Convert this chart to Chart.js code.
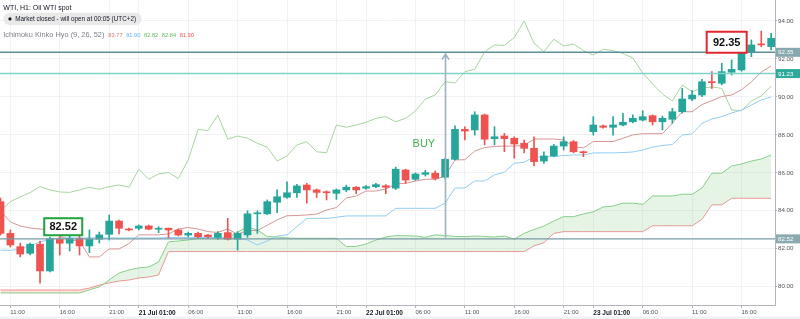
<!DOCTYPE html>
<html><head><meta charset="utf-8">
<script src="https://cdn.jsdelivr.net/npm/chart.js@4/dist/chart.umd.min.js"></script>
<style>html,body{margin:0;padding:0;background:#fff;}canvas{display:block;}</style>
</head><body>
<canvas id="c" width="800" height="319"></canvas>
<script>
// ---------- data (hourly WTI candles, 20 Jul 10:00 -> 23 Jul 19:00) ----------
const open  = [84.48,82.81,82.11,81.76,82.24,80.83,82.50,82.29,82.55,82.15, 82.50,82.76,83.46,83.04,83.08,83.20,83.03,83.08,82.99,82.72, 82.81,82.72,82.60,82.85,82.50,82.73,83.84,83.84,84.45,84.71, 84.95,85.36,85.10,84.98,84.92,85.10,85.24,85.19,85.27,85.32, 85.19,86.15,85.66,85.92,85.98,85.77,86.71,88.29,88.26,89.05, 87.80,87.94,87.82,87.56,87.29,86.62,86.89,87.41,87.64,87.11, 88.17,88.47,88.40,88.52,88.69,88.78,89.01,88.69,88.82,89.22, 89.89,90.10,90.80,90.72,91.30,91.42,92.38,92.79,92.65];
const high  = [84.67,82.99,82.30,82.30,82.41,82.62,82.64,82.76,82.73,82.99, 82.88,83.78,83.51,83.09,83.25,83.25,83.16,83.09,83.04,82.88, 82.88,82.76,82.90,83.60,82.90,84.00,84.00,84.57,85.10,85.53, 85.40,85.45,85.15,85.05,85.15,85.35,85.28,85.33,85.45,85.38, 86.30,86.19,86.00,86.13,86.10,86.76,88.47,88.43,89.22,89.10, 88.43,88.08,87.90,87.73,87.90,87.11,87.50,87.90,87.70,87.15, 88.96,88.52,88.96,89.14,89.05,89.27,89.05,88.99,89.40,90.45, 90.33,90.93,91.33,91.77,91.95,92.50,93.00,93.47,93.35];
const low   = [82.72,82.09,81.57,81.67,80.18,80.78,81.67,81.88,81.67,81.79, 82.30,82.46,82.78,82.94,82.99,82.99,82.85,82.57,82.67,82.62, 82.57,82.57,82.49,82.46,81.93,82.60,82.81,83.80,83.90,84.65, 84.70,84.40,84.70,84.57,84.60,85.00,84.90,85.12,85.22,84.90, 85.12,85.44,85.60,85.83,85.62,85.70,86.68,87.73,87.99,87.47, 87.47,87.11,86.77,87.05,86.36,86.50,86.85,87.20,87.05,86.85, 87.99,88.35,87.99,88.47,88.63,88.73,88.52,88.26,88.61,89.14, 89.80,90.01,90.45,90.63,91.15,91.35,92.12,92.65,92.47];
const close = [82.81,82.20,81.72,82.24,80.83,82.52,82.29,82.55,82.15,82.50, 82.73,83.46,83.08,82.99,83.20,83.03,83.06,82.99,82.72,82.81, 82.63,82.63,82.81,82.50,82.81,83.84,83.87,84.48,84.74,84.95, 85.31,85.10,84.97,84.95,85.10,85.24,85.10,85.27,85.38,85.24, 86.19,85.62,85.94,86.01,85.71,86.71,88.29,88.20,89.05,87.77, 87.90,87.80,87.52,87.29,86.59,86.89,87.41,87.64,87.11,87.06, 88.52,88.40,88.52,88.66,88.87,88.96,88.69,88.87,89.22,89.89, 90.10,90.80,90.75,91.33,91.45,92.35,92.74,92.74,93.09];

// Ichimoku Kinko Hyo (9, 26, 52) lines as drawn
const tenkan  = [83.99,83.41,83.20,83.09,83.04,82.99,82.67,82.46,82.41,81.57, 81.57,81.99,81.99,82.27,82.73,82.73,82.73,82.78,83.04,83.12, 83.04,82.90,82.86,83.04,82.76,82.96,82.96,83.24,83.52,83.74, 83.75,83.78,83.83,84.04,84.17,84.67,84.78,85.04,85.04,85.15, 85.41,85.45,85.57,85.66,85.66,85.83,86.68,86.69,87.15,87.33, 87.39,87.41,87.41,87.44,87.78,87.78,87.78,87.73,87.39,87.31, 87.65,87.65,87.65,87.82,88.00,88.06,88.06,88.06,88.62,89.22, 89.22,89.60,89.80,90.02,90.10,90.38,90.79,91.31,91.63];
const kijun   = [81.93,81.91,81.99,82.15,82.36,82.51,82.57,82.57,82.57,82.57, 82.57,82.57,82.57,82.57,82.57,82.57,82.57,82.59,82.59,82.59, 82.59,82.59,82.59,82.59,82.57,82.46,82.20,82.41,82.67,82.73, 83.16,83.60,83.60,83.60,83.66,83.73,83.73,83.73,83.73,83.73, 84.13,84.13,84.13,84.13,84.13,84.41,85.20,85.20,85.57,85.57, 85.89,86.04,86.50,86.56,86.83,86.83,86.86,86.91,86.94,86.94, 87.05,87.05,87.05,87.07,87.10,87.20,87.36,87.44,87.49,87.99, 88.05,88.61,88.84,88.96,89.15,89.31,89.57,89.84,90.00];
const lagging = [83.99,84.48,84.73,84.96,85.28,85.10,84.99,84.97,85.10,85.24, 85.13,85.27,85.36,85.24,86.19,85.66,85.94,86.01,85.71,86.68, 88.29,88.22,89.05,87.77,87.94,87.82,87.56,87.35,86.62,86.89, 87.47,87.64,87.11,87.06,88.52,88.40,88.52,88.66,88.87,88.96, 88.69,88.87,89.26,89.89,90.10,90.80,90.73,91.33,91.46,92.37, 92.74,92.71,93.13,94.00,92.83,92.38,93.04,92.68,92.79,92.44, 92.21,92.51,92.44,92.29,92.05,91.26,90.68,90.15,89.79,90.63, 90.28,90.47,90.52,90.45,89.31,89.27,89.79,90.05,90.58];
const spanA   = [79.67,79.67,79.67,79.67,79.67,79.67,79.67,79.67,79.67,79.83, 79.99,80.35,80.72,80.88,80.99,81.04,81.30,82.36,82.41,82.46, 82.54,82.55,82.55,82.55,82.88,83.15,82.99,82.64,82.62,82.57, 82.55,82.55,82.55,82.55,82.55,82.12,82.12,82.25,82.46,82.62, 82.69,82.69,82.67,82.60,82.73,82.70,82.65,82.64,82.67,82.65, 82.62,82.67,82.51,82.81,83.01,83.20,83.46,83.69,83.69,83.83, 83.95,84.20,84.25,84.40,84.40,84.34,84.78,84.78,84.78,84.87, 84.87,85.20,85.98,85.98,86.36,86.47,86.62,86.73,86.94];
const spanB   = [79.83,79.83,79.83,79.83,79.83,79.83,79.83,79.83,79.83,79.93, 80.09,80.20,80.30,80.35,80.46,80.51,80.62,81.85,81.85,81.85, 81.85,81.85,81.85,81.85,81.85,81.85,81.85,81.85,81.85,81.85, 81.85,81.85,81.85,81.85,81.85,81.85,81.85,81.85,81.85,81.85, 81.85,81.85,81.85,81.85,81.85,81.85,81.85,81.85,81.85,81.85, 81.85,81.85,81.85,81.85,82.15,82.32,82.81,82.90,82.90,82.90, 82.90,82.90,82.90,82.90,82.90,82.90,83.21,83.21,83.21,83.21, 83.21,83.55,84.31,84.31,84.66,84.66,84.66,84.66,84.66];

// axes
const yTicks = [80, 82, 84, 86, 88, 90, 92, 94];
const xTickIdx    = [1, 6, 11, 14, 19, 24, 29, 34, 37, 42, 47, 52, 57, 60, 65, 70, 75];
const xTickLabels = ['11:00','16:00','21:00','21 Jul 01:00','06:00','11:00','16:00','21:00','22 Jul 01:00','06:00','11:00','16:00','21:00','23 Jul 01:00','06:00','11:00','16:00'];

// annotations
const levels = [92.35, 91.23, 82.52];
const levelLabels = ['92.35', '91.23', '82.52'];
const buyBar = 45;
const calloutText = ['82.52', '92.35'];
const titleText = 'WTI, H1: Oil WTI spot';
const statusText = 'Market closed - will open at 00:05 (UTC+2)';
const indicatorText = 'Ichimoku Kinko Hyo (9, 26, 52)';
const legendValues = ['83.77', '81.90', '82.82', '82.84', '81.90'];

// ---------- styles / placement (not data) ----------
const FONT = '"Liberation Sans", Arial, sans-serif';
const UP = '#26a69a', DOWN = '#ef5350';
const levelStyle = [
  {line: '#5e8f99', box: '#86a8ae'},
  {line: '#7fd3c6', box: '#2eaa9c'},
  {line: '#789ca5', box: '#8aa9b0'}
];
const calloutPos = [ // in data units: bar index, price (centre)
  {bar: 6.35, price: 83.16, w: 38, h: 17, color: '#20a33c'},
  {bar: 73.5, price: 92.88, w: 40, h: 21, color: '#e3262d'}
];
const buyPos = {bar: 42.85, price: 87.53};
const legendColors = ['#e57373', '#64b5f6', '#66bb6a', '#66bb6a', '#ef5350'];

const idx = close.map((_, i) => i);
const colorOf = idx.map(i => close[i] >= open[i] ? UP : DOWN);

function rr(ctx, x, y, w, h, r) {
  ctx.beginPath();
  ctx.moveTo(x + r, y);
  ctx.arcTo(x + w, y, x + w, y + h, r);
  ctx.arcTo(x + w, y + h, x, y + h, r);
  ctx.arcTo(x, y + h, x, y, r);
  ctx.arcTo(x, y, x + w, y, r);
  ctx.closePath();
}

const overlay = {
  id: 'overlay',
  afterDatasetsDraw(chart) {
    const {ctx, chartArea: a, scales: {x, y}} = chart;
    ctx.save();
    levels.forEach((lv, k) => {
      const py = y.getPixelForValue(lv);
      ctx.strokeStyle = levelStyle[k].line;
      ctx.lineWidth = 1.4;
      ctx.beginPath(); ctx.moveTo(a.left, py); ctx.lineTo(a.right, py); ctx.stroke();
    });
    const bx = Math.round(x.getPixelForValue(buyBar)) + 0.5;
    const y0 = y.getPixelForValue(levels[2]);
    const y1 = y.getPixelForValue(levels[0]) + 1.8;
    ctx.strokeStyle = '#9cb3c0';
    ctx.lineWidth = 1.6;
    ctx.beginPath(); ctx.moveTo(bx, y0); ctx.lineTo(bx, y1); ctx.stroke();
    ctx.beginPath(); ctx.moveTo(bx - 3.5, y1 + 5.5); ctx.lineTo(bx, y1); ctx.lineTo(bx + 3.5, y1 + 5.5); ctx.stroke();
    ctx.fillStyle = '#43b04a';
    ctx.font = `11px ${FONT}`;
    ctx.textAlign = 'center'; ctx.textBaseline = 'middle';
    ctx.fillText('BUY', x.getPixelForValue(buyPos.bar), y.getPixelForValue(buyPos.price));
    calloutPos.forEach((c, k) => {
      const cx = x.getPixelForValue(c.bar), cy = y.getPixelForValue(c.price);
      ctx.fillStyle = '#fff';
      ctx.fillRect(cx - c.w / 2, cy - c.h / 2, c.w, c.h);
      ctx.strokeStyle = c.color; ctx.lineWidth = 2;
      ctx.strokeRect(cx - c.w / 2, cy - c.h / 2, c.w, c.h);
      ctx.fillStyle = '#111';
      ctx.font = `bold 11px ${FONT}`;
      ctx.fillText(calloutText[k], cx, cy + 0.5);
    });
    ctx.restore();
  },
  afterDraw(chart) {
    const {ctx, chartArea: a, scales: {y}} = chart;
    ctx.save();
    levels.forEach((lv, k) => {
      const py = y.getPixelForValue(lv);
      ctx.fillStyle = levelStyle[k].box;
      ctx.fillRect(a.right + 1, py - 4.5, 800 - a.right - 1, 9);
      ctx.fillStyle = '#fff';
      ctx.font = `6.2px ${FONT}`;
      ctx.textAlign = 'left'; ctx.textBaseline = 'middle';
      ctx.fillText(levelLabels[k], a.right + 3, py + 0.3);
    });
    ctx.textAlign = 'left'; ctx.textBaseline = 'alphabetic';
    ctx.fillStyle = '#131722';
    ctx.font = `7px ${FONT}`;
    ctx.fillText(titleText, 3.3, 10.3);
    ctx.fillStyle = '#e9e9ea';
    rr(ctx, 3.3, 12.7, 138.4, 12.3, 6.1); ctx.fill();
    ctx.fillStyle = '#131722';
    ctx.beginPath(); ctx.arc(10, 18.9, 1.6, 0, Math.PI * 2); ctx.fill();
    ctx.font = `6.35px ${FONT}`;
    ctx.fillText(statusText, 15.3, 21.2);
    ctx.font = `7.4px ${FONT}`;
    ctx.fillStyle = '#7c7f88';
    ctx.fillText(indicatorText, 3.3, 36.6);
    let lx = 3.3 + ctx.measureText(indicatorText).width + 4;
    ctx.font = `5.7px ${FONT}`;
    legendValues.forEach((v, k) => {
      ctx.fillStyle = legendColors[k];
      ctx.fillText(v, lx, 36.6);
      lx += ctx.measureText(v).width + 3.6;
    });
    ctx.fillStyle = '#f0f2f5';
    ctx.fillRect(0, 316.5, 800, 3);
    ctx.restore();
  }
};

const line = (label, data, color, order, extra = {}) => Object.assign({
  type: 'line', label, data: idx.map(i => ({x: i, y: data[i]})),
  borderColor: color, borderWidth: 1, pointRadius: 0, tension: 0, fill: false, order
}, extra);

new Chart(document.getElementById('c'), {
  type: 'bar',
  data: {
    datasets: [
      line('Lead 1', spanA, '#86cf88', 10, {fill: {target: '+1', above: 'rgba(76,175,80,0.14)', below: 'rgba(244,67,54,0.16)'}}),
      line('Lead 2', spanB, '#ee9c9c', 11),
      line('Lagging', lagging, '#a7d49f', 8),
      line('Base', kijun, '#92cdf6', 7),
      line('Conversion', tenkan, '#d99595', 6),
      {type: 'bar', label: 'wick', data: idx.map(i => ({x: i, y: [low[i], high[i]]})),
       backgroundColor: colorOf, barThickness: 1, grouped: false, order: 2},
      {type: 'bar', label: 'body', data: idx.map(i => ({x: i, y: [open[i], close[i]]})),
       backgroundColor: colorOf, barThickness: 7, minBarLength: 1, grouped: false, order: 1}
    ]
  },
  options: {
    responsive: false, animation: false, devicePixelRatio: 1,
    layout: {padding: 0},
    plugins: {legend: {display: false}, tooltip: {enabled: false}},
    scales: {
      x: {
        type: 'linear', position: 'bottom', min: -0.05, max: 78.39, offset: false,
        afterBuildTicks: s => { s.ticks = xTickIdx.map(v => ({value: v})); },
        afterFit: s => { s.height = 14; s.paddingLeft = 0; s.paddingRight = 0; },
        grid: {color: '#f1f2f5', tickColor: '#b2b5be', tickLength: 3, lineWidth: 1, offset: false},
        border: {color: '#b2b5be'},
        ticks: {
          autoSkip: false, maxRotation: 0, align: 'start', padding: 1,
          callback: (v, i) => xTickLabels[i],
          color: c => xTickLabels[c.index] && xTickLabels[c.index].includes('Jul') ? '#131722' : '#50535e',
          font: c => (xTickLabels[c.index] && xTickLabels[c.index].includes('Jul'))
            ? {family: FONT, size: 6.5, weight: 'bold'} : {family: FONT, size: 6}
        }
      },
      y: {
        type: 'linear', position: 'right', min: 79.036, max: 95.106,
        afterBuildTicks: s => { s.ticks = yTicks.map(v => ({value: v})); },
        afterFit: s => { s.width = 25; s.paddingTop = 0; s.paddingBottom = 0; },
        grid: {color: '#f1f2f5', tickColor: '#b2b5be', tickLength: 2},
        border: {color: '#b2b5be'},
        ticks: {padding: 1, color: '#50535e', font: {family: FONT, size: 6.2},
                callback: v => Number(v).toFixed(2)}
      }
    }
  },
  plugins: [overlay]
});
</script>
</body></html>
